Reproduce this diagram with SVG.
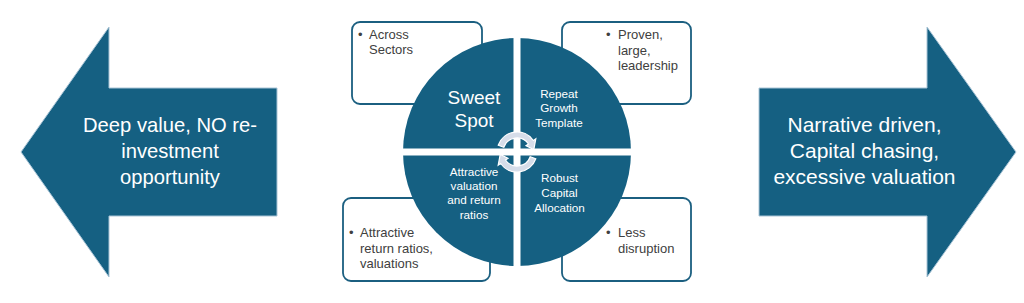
<svg xmlns="http://www.w3.org/2000/svg" width="1024" height="303" viewBox="0 0 1024 303">
<style>
.big{fill:#156082;stroke:#a9c4d6;stroke-width:1}
.box{fill:#ffffff;stroke:#1b5f80;stroke-width:1.8}
.wt{font-family:"Liberation Sans",Arial,sans-serif;fill:#ffffff;text-anchor:middle}
.bt{font-family:"Liberation Sans",Arial,sans-serif;fill:#404040;font-size:13px}
.q{font-size:11.7px}
.cyc{fill:#d6dde9;stroke:#ffffff;stroke-width:1.2}
</style>
<rect width="1024" height="303" fill="#ffffff"/>

<g id="left-arrow">
<path class="big" d="M21,152 L109,27 L109,88 L277,88 L277,216 L109,216 L109,277 Z"/>
<text class="wt" font-size="20.2" x="170" y="132">Deep value, NO re-</text>
<text class="wt" font-size="20.2" x="170" y="158">investment</text>
<text class="wt" font-size="20.2" x="170" y="184">opportunity</text>
</g>

<g id="right-arrow">
<path class="big" d="M1016,152 L927,27 L927,88 L759,88 L759,216 L927,216 L927,277 Z"/>
<text class="wt" font-size="21" x="864.5" y="132">Narrative driven,</text>
<text class="wt" font-size="21" x="864.5" y="158">Capital chasing,</text>
<text class="wt" font-size="21" x="864.5" y="184">excessive valuation</text>
</g>

<g id="box-across-sectors">
<rect class="box" x="352" y="22" width="130" height="82" rx="8"/>
<text class="bt" x="358" y="39">•</text>
<text class="bt" x="369" y="39">Across</text>
<text class="bt" x="369" y="54">Sectors</text>
</g>

<g id="box-proven">
<rect class="box" x="562" y="22" width="129" height="82" rx="8"/>
<text class="bt" x="606" y="39">•</text>
<text class="bt" x="618" y="39">Proven,</text>
<text class="bt" x="618" y="54.5">large,</text>
<text class="bt" x="618" y="70">leadership</text>
</g>

<g id="box-attractive">
<rect class="box" x="343" y="198" width="147" height="83" rx="8"/>
<text class="bt" x="349" y="237">•</text>
<text class="bt" x="360" y="237">Attractive</text>
<text class="bt" x="360" y="252.5">return ratios,</text>
<text class="bt" x="360" y="268">valuations</text>
</g>

<g id="box-less-disruption">
<rect class="box" x="562" y="198" width="129" height="83" rx="8"/>
<text class="bt" x="606" y="237">•</text>
<text class="bt" x="618" y="237">Less</text>
<text class="bt" x="618" y="252.5">disruption</text>
</g>

<g id="sweet-spot-circle">
<circle cx="517" cy="152" r="114" fill="#156082"/>
<rect x="513.5" y="30" width="7" height="245" fill="#ffffff"/>
<rect x="395" y="148.5" width="245" height="7" fill="#ffffff"/>
<text class="wt" font-size="19" x="474" y="104">Sweet</text>
<text class="wt" font-size="19" x="474" y="127">Spot</text>
<text class="wt q" x="559" y="97.7">Repeat</text>
<text class="wt q" x="559" y="112.2">Growth</text>
<text class="wt q" x="559" y="126.7">Template</text>
<text class="wt q" x="474" y="175.7">Attractive</text>
<text class="wt q" x="474" y="190">valuation</text>
<text class="wt q" x="474" y="204.3">and return</text>
<text class="wt q" x="474" y="218.5">ratios</text>
<text class="wt q" x="559.5" y="182.3">Robust</text>
<text class="wt q" x="559.5" y="197.3">Capital</text>
<text class="wt q" x="559.5" y="211.5">Allocation</text>
</g>

<g id="connectors">
<path class="cyc" d="M498.2,145.2 A20,20 0 0 1 533.4,140.5 L535.8,138.8 L533.8,149.6 L526.0,145.7 L528.5,144.0 A14,14 0 0 0 503.8,147.2 Z"/>
<path class="cyc" transform="rotate(180 517 152)" d="M498.2,145.2 A20,20 0 0 1 533.4,140.5 L535.8,138.8 L533.8,149.6 L526.0,145.7 L528.5,144.0 A14,14 0 0 0 503.8,147.2 Z"/>
</g>
</svg>
